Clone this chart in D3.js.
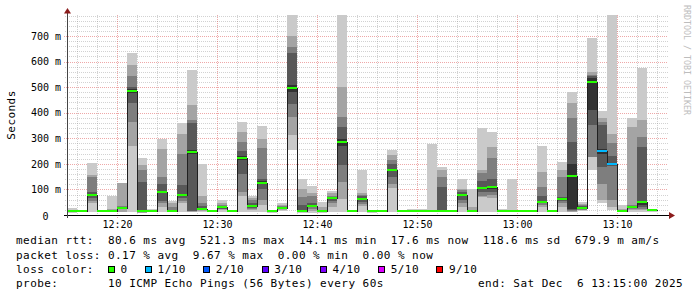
<!DOCTYPE html>
<html>
<head>
<meta charset="utf-8">
<script src="https://cdn.jsdelivr.net/npm/d3@7"></script>
<style>
  html, body { margin: 0; padding: 0; background: #fff; }
  svg { display: block; }
  text { font-family: "DejaVu Sans Mono", monospace; fill: #000; }
  .legend text { white-space: pre; }
</style>
</head>
<body>
<svg id="chart" width="697" height="297"></svg>
<script>
// ---- data ----
const startTime = new Date(Date.UTC(2025, 11, 6, 12, 15));
const endTime = new Date(Date.UTC(2025, 11, 6, 13, 15));
const yMax = 782;

// median rtt per 60s step (ms), last step has no data yet
const medians = [
  14.1, 16, 78, 15, 15, 29, 485, 14.5, 16, 89,
  15, 78, 246, 24, 15, 31, 17, 223, 35, 126,
  14.3, 27, 495, 15, 37, 15, 65, 284, 15, 61,
  14.5, 17, 176, 15, 15, 15, 15, 15, 15, 78,
  15, 105, 108, 15, 15, 15, 16, 50, 15, 61,
  154, 29, 521.3, 249, 199, 16, 33, 52, 17.6, null
];

// lost pings per step (out of 10)
const lossCounts = [
  0, 0, 0, 0, 0, 0, 0, 0, 0, 0,
  0, 0, 0, 0, 0, 0, 0, 0, 0, 0,
  0, 0, 0, 0, 0, 0, 0, 0, 0, 0,
  0, 0, 0, 0, 0, 0, 0, 0, 0, 0,
  0, 0, 0, 0, 0, 0, 0, 0, 0, 0,
  0, 0, 0, 1, 1, 0, 0, 0, 0, null
];

// the 10 sorted ping times per step (ms) -> smoke
const pings = [
  [9, 10, 10, 11, 13, 14, 15, 17, 20, 27],
  [13, 14, 14, 15, 15, 16, 16, 17, 18, 19],
  [12, 46, 55, 65, 74, 84, 90, 148, 155, 203],
  [10, 11, 12, 13, 14, 15, 16, 16, 17, 18],
  [10, 11, 12, 13, 14, 15, 16, 20, 25, 73],
  [10, 12, 25, 27, 28, 30, 32, 34, 124, 126],
  [11, 270, 364, 438, 477, 493, 499, 543, 586, 634],
  [8, 9, 10, 12, 13, 15, 129, 174, 194, 223],
  [12, 13, 14, 14, 15, 16, 17, 18, 20, 22],
  [10, 30, 45, 55, 85, 93, 123, 148, 260, 299],
  [10, 11, 12, 13, 14, 15, 20, 30, 45, 55],
  [12, 45, 55, 68, 74, 82, 116, 237, 318, 360],
  [10, 12, 14, 16, 238, 254, 360, 373, 429, 566],
  [10, 14, 18, 20, 22, 26, 35, 45, 76, 201],
  [11, 12, 13, 14, 14, 15, 15, 16, 16, 17],
  [12, 18, 22, 25, 28, 33, 36, 40, 45, 57],
  [13, 14, 15, 15, 16, 17, 17, 18, 19, 20],
  [10, 76, 89, 162, 214, 232, 250, 285, 325, 364],
  [12, 20, 25, 28, 33, 37, 45, 60, 66, 76],
  [12, 40, 60, 100, 120, 132, 140, 263, 299, 347],
  [9, 10, 11, 12, 14, 15, 15, 16, 16, 17],
  [14, 18, 22, 24, 26, 28, 30, 35, 40, 46],
  [256, 312, 383, 433, 480, 510, 633, 658, 700, 790],
  [9, 10, 11, 12, 14, 15, 40, 70, 100, 139],
  [8, 15, 25, 30, 35, 40, 45, 76, 85, 112],
  [9, 10, 11, 12, 14, 15, 17, 20, 30, 50],
  [12, 30, 45, 55, 62, 68, 72, 76, 85, 92],
  [10, 63, 129, 194, 270, 298, 344, 383, 501, 790],
  [10, 11, 12, 13, 14, 15, 16, 16, 17, 18],
  [12, 35, 42, 52, 58, 64, 75, 80, 86, 174],
  [9, 10, 11, 12, 14, 15, 15, 16, 16, 17],
  [13, 14, 15, 16, 16, 17, 18, 19, 20, 21],
  [12, 104, 123, 150, 172, 180, 200, 216, 236, 253],
  [10, 11, 12, 13, 14, 15, 16, 16, 17, 18],
  [10, 11, 12, 13, 14, 15, 16, 17, 18, 22],
  [10, 11, 12, 13, 14, 15, 16, 17, 18, 22],
  [10, 11, 12, 13, 14, 15, 16, 17, 20, 279],
  [11, 12, 12, 13, 14, 15, 109, 148, 174, 187],
  [11, 12, 13, 14, 14, 15, 16, 16, 17, 18],
  [12, 30, 45, 60, 74, 82, 90, 98, 103, 142],
  [10, 11, 12, 13, 14, 15, 16, 20, 30, 100],
  [12, 70, 76, 90, 100, 110, 132, 164, 174, 340],
  [12, 67, 80, 90, 100, 110, 142, 223, 266, 325],
  [10, 11, 12, 13, 14, 15, 16, 18, 20, 24],
  [10, 11, 12, 13, 14, 15, 16, 17, 18, 142],
  [10, 11, 12, 13, 14, 15, 16, 17, 18, 20],
  [11, 12, 13, 14, 15, 16, 17, 18, 19, 21],
  [12, 30, 40, 45, 48, 52, 76, 109, 168, 268],
  [10, 11, 12, 13, 14, 15, 16, 16, 17, 18],
  [10, 30, 45, 55, 58, 64, 70, 148, 174, 207],
  [10, 12, 15, 20, 25, 200, 285, 379, 438, 481],
  [14, 18, 20, 23, 26, 30, 34, 38, 44, 50],
  [174, 225, 227, 351, 410, 535, 542, 547, 560, 691],
  [45, 57, 122, 187, 240, 260, 351, 364, 380, 407],
  [20, 30, 60, 190, 195, 205, 230, 280, 318, 790],
  [11, 12, 13, 14, 15, 16, 17, 20, 25, 41],
  [12, 20, 25, 28, 30, 33, 36, 40, 344, 381],
  [12, 18, 22, 30, 40, 55, 266, 305, 370, 573],
  [13, 14, 15, 16, 17, 18, 18, 19, 20, 21],
  null
];

const yTicks = [0, 100, 200, 300, 400, 500, 600, 700];
const yTickLabels = ["0", "100 m", "200 m", "300 m", "400 m", "500 m", "600 m", "700 m"];

const smokeShades = ["#cacaca", "#a4a4a4", "#7e7e7e", "#585858", "#323232"];

const lossThresholds = [0, 1, 2, 3, 4, 5, 9];
const lossLabels = ["0", "1/10", "2/10", "3/10", "4/10", "5/10", "9/10"];
const lossColors = ["#26ff00", "#00b8ff", "#0059ff", "#5e00ff", "#7e00ff", "#dd00ff", "#ff0000"];

const statLines = [
  "median rtt:  80.6 ms avg  521.3 ms max  14.1 ms min  17.6 ms now  118.6 ms sd  679.9 m am/s",
  "packet loss: 0.17 % avg  9.67 % max  0.00 % min  0.00 % now"
];
const lossTitle = "loss color:";
const probeText = "probe:       10 ICMP Echo Pings (56 Bytes) every 60s";
const endText = "end: Sat Dec  6 13:15:00 2025";

// ---- drawing ----
const svg = d3.select("#chart");
const plot = { left: 67, right: 667, top: 15, bottom: 215 };
const px = v => Math.round(v) + 0.5;

const x = d3.scaleUtc().domain([startTime, endTime]).range([plot.left, plot.right]);
const y = d3.scaleLinear().domain([0, yMax]).range([plot.bottom, plot.top]);

svg.append("rect").attr("width", 697).attr("height", 297).attr("fill", "#fff");

svg.append("defs").append("clipPath").attr("id", "plotClip")
  .append("rect")
  .attr("x", plot.left).attr("y", plot.top)
  .attr("width", plot.right - plot.left).attr("height", plot.bottom - plot.top);

// grid
const grid = svg.append("g").attr("shape-rendering", "crispEdges");

const minorY = d3.range(20, yMax, 20).filter(v => v % 100 !== 0);
grid.append("g").selectAll("line").data(minorY).join("line")
  .attr("x1", plot.left - 2).attr("x2", plot.right + 1)
  .attr("y1", d => px(y(d))).attr("y2", d => px(y(d)))
  .attr("stroke", "#8f8f8f").attr("stroke-opacity", 0.4)
  .attr("stroke-dasharray", "1,1");

const minorX = d3.utcMinute.every(2).range(d3.utcMinute.offset(startTime, 1), endTime)
  .filter(t => t.getUTCMinutes() % 10 !== 0);
grid.append("g").selectAll("line").data(minorX).join("line")
  .attr("x1", d => px(x(d))).attr("x2", d => px(x(d)))
  .attr("y1", plot.top).attr("y2", plot.bottom + 2)
  .attr("stroke", "#8f8f8f").attr("stroke-opacity", 0.4)
  .attr("stroke-dasharray", "1,1");

grid.append("g").selectAll("line").data(yTicks.filter(v => v > 0)).join("line")
  .attr("x1", plot.left - 3).attr("x2", plot.right + 1)
  .attr("y1", d => px(y(d))).attr("y2", d => px(y(d)))
  .attr("stroke", "#de5151").attr("stroke-opacity", 0.5)
  .attr("stroke-dasharray", "1,1");

const majorX = d3.utcMinute.every(10).range(d3.utcMinute.offset(startTime, 1), endTime);
grid.append("g").selectAll("line").data(majorX).join("line")
  .attr("x1", d => px(x(d))).attr("x2", d => px(x(d)))
  .attr("y1", plot.top).attr("y2", plot.bottom + 3)
  .attr("stroke", "#de5151").attr("stroke-opacity", 0.5)
  .attr("stroke-dasharray", "1,1");

// smoke
const steps = pings
  .map((p, k) => ({
    t: d3.utcMinute.offset(startTime, k),
    pings: p,
    median: medians[k],
    loss: lossCounts[k]
  }))
  .filter(d => d.pings);

const stepWidth = d => x(d3.utcMinute.offset(d.t, 1)) - x(d.t);

const smoke = svg.append("g")
  .attr("clip-path", "url(#plotClip)")
  .attr("shape-rendering", "crispEdges");

smokeShades.forEach((shade, i) => {
  smoke.append("g").selectAll("rect").data(steps).join("rect")
    .attr("x", d => x(d.t))
    .attr("width", stepWidth)
    .attr("y", d => y(d.pings[9 - i]))
    .attr("height", d => y(d.pings[i]) - y(d.pings[9 - i]))
    .attr("fill", shade);
});

// median step line
const linePoints = steps.map(d => ({ t: d.t, v: d.median }));
const lastStep = steps[steps.length - 1];
linePoints.push({ t: d3.utcMinute.offset(lastStep.t, 1), v: lastStep.median });

svg.append("path")
  .datum(linePoints)
  .attr("d", d3.line()
    .x(d => px(x(d.t)))
    .y(d => px(y(d.v)))
    .curve(d3.curveStepAfter))
  .attr("fill", "none")
  .attr("stroke", "#202020")
  .attr("stroke-width", 1)
  .attr("shape-rendering", "crispEdges");

// median coloured by loss
const lossIndex = loss => d3.bisectRight(lossThresholds, loss) - 1;

svg.append("g").attr("shape-rendering", "crispEdges")
  .selectAll("rect").data(steps).join("rect")
  .attr("x", d => x(d.t))
  .attr("width", stepWidth)
  .attr("y", d => Math.round(y(d.median)) - 1)
  .attr("height", 2)
  .attr("fill", d => lossColors[lossIndex(d.loss)]);

// axes
const xAxis = svg.append("g")
  .attr("transform", `translate(0,${plot.bottom})`)
  .call(d3.axisBottom(x)
    .tickValues(majorX)
    .tickFormat(d3.utcFormat("%H:%M"))
    .tickSize(0)
    .tickPadding(5.5));
xAxis.select(".domain").remove();
xAxis.selectAll("text")
  .attr("font-family", "DejaVu Sans Mono")
  .attr("font-size", 10)
  .attr("fill", "#000");

const yAxis = svg.append("g")
  .attr("transform", `translate(${plot.left},0)`)
  .call(d3.axisLeft(y)
    .tickValues(yTicks)
    .tickFormat((d, i) => yTickLabels[i])
    .tickSize(0)
    .tickPadding(6));
yAxis.select(".domain").remove();
yAxis.selectAll("text")
  .attr("font-family", "DejaVu Sans Mono")
  .attr("font-size", 10)
  .attr("fill", "#000")
  .filter(d => d === 0)
  .attr("x", -18.5)
  .attr("dy", "0.42em");

const axisLines = svg.append("g").attr("shape-rendering", "crispEdges");
axisLines.append("line")
  .attr("x1", plot.left - 3).attr("x2", plot.right + 3)
  .attr("y1", plot.bottom + 0.5).attr("y2", plot.bottom + 0.5)
  .attr("stroke", "#000");
axisLines.append("line")
  .attr("x1", plot.left + 0.5).attr("x2", plot.left + 0.5)
  .attr("y1", plot.bottom + 3).attr("y2", plot.top - 3)
  .attr("stroke", "#444");

svg.append("path")
  .attr("d", `M${plot.left - 3},${plot.top - 1.5}L${plot.left + 4},${plot.top - 1.5}L${plot.left + 0.5},${plot.top - 7}Z`)
  .attr("fill", "#8b1c1c");
svg.append("path")
  .attr("d", `M${plot.right + 2},${plot.bottom - 3}L${plot.right + 2},${plot.bottom + 4}L${plot.right + 8},${plot.bottom + 0.5}Z`)
  .attr("fill", "#8b1c1c");

// titles
svg.append("text")
  .attr("transform", `translate(15,${(plot.top + plot.bottom) / 2}) rotate(-90)`)
  .attr("text-anchor", "middle")
  .attr("font-size", 11)
  .attr("letter-spacing", 0.45)
  .text("Seconds");

svg.append("text")
  .attr("transform", "translate(684,5) rotate(90)")
  .attr("font-size", 8.3)
  .style("fill", "#bdbdbd")
  .text("RRDTOOL / TOBI OETIKER");

// legend
const legend = svg.append("g")
  .attr("class", "legend")
  .attr("font-size", 11)
  .attr("letter-spacing", 0.45);

const lineY = [244.3, 258.5, 272.7, 286.9];

const addLegendText = (xPos, yPos, str) =>
  legend.append("text")
    .attr("x", xPos)
    .attr("y", yPos)
    .attr("xml:space", "preserve")
    .style("white-space", "pre")
    .text(str);

statLines.forEach((line, i) => addLegendText(16, lineY[i], line));
addLegendText(16, lineY[2], lossTitle);

const charW = 7.07;
let cursor = 108;
lossLabels.forEach((label, i) => {
  legend.append("rect")
    .attr("x", Math.round(cursor) + 0.5)
    .attr("y", 266.5)
    .attr("width", 6).attr("height", 6)
    .attr("fill", lossColors[i])
    .attr("stroke", "#000")
    .attr("shape-rendering", "crispEdges");
  addLegendText(cursor + 12.5, lineY[2], label);
  cursor += 12.5 + label.length * charW + 17.5;
});

addLegendText(16, lineY[3], probeText);
addLegendText(478, lineY[3], endText);
</script>
</body>
</html>
